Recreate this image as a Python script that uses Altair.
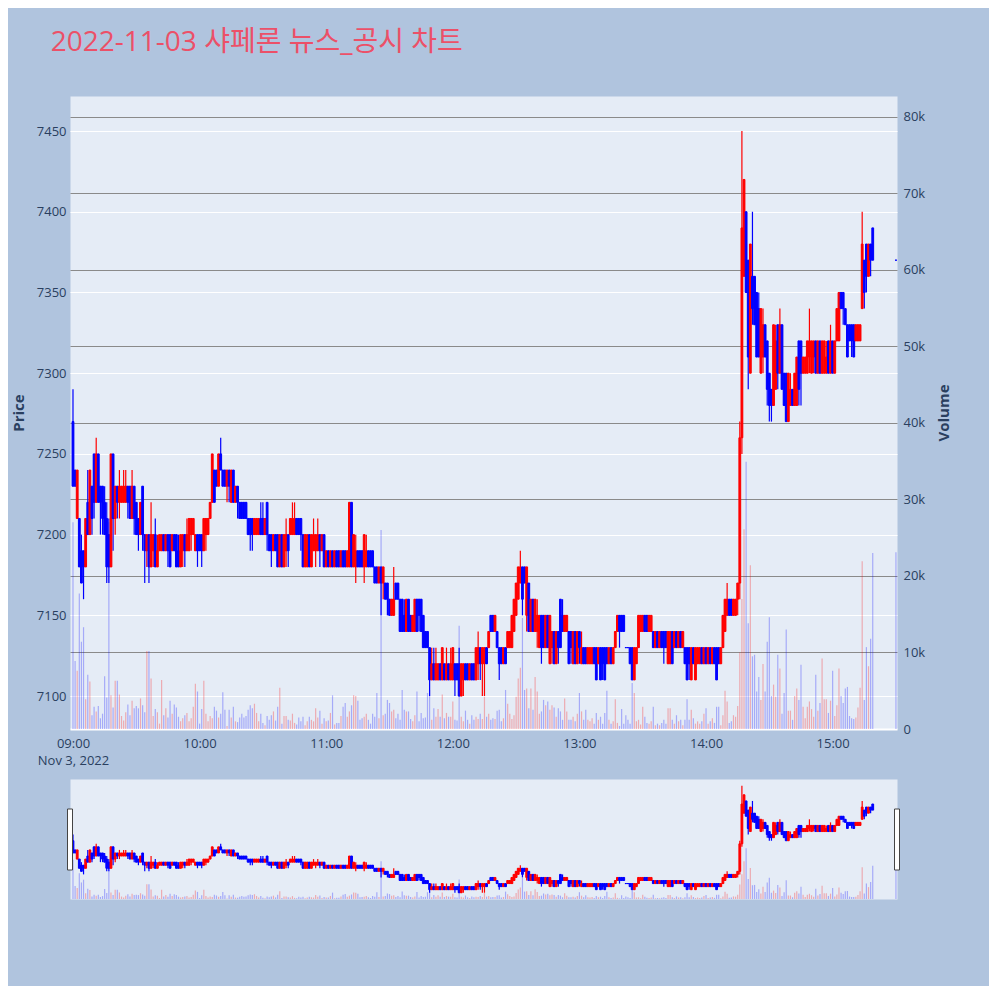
import altair as alt
import pandas as pd

# 1-minute candles 09:00-15:19 plus the 15:30 closing auction
times = [f"2022-11-03T{9 + m // 60:02d}:{m % 60:02d}:00" for m in range(380)] + ["2022-11-03T15:30:00"]

opens = [
    7270, 7240, 7210, 7210, 7190, 7190, 7180, 7220, 7200, 7230,
    7250, 7220, 7250, 7230, 7230, 7220, 7210, 7200, 7180, 7250,
    7210, 7230, 7220, 7220, 7220, 7220, 7230, 7230, 7210, 7230,
    7220, 7210, 7200, 7230, 7200, 7190, 7200, 7180, 7190, 7200,
    7180, 7190, 7190, 7200, 7190, 7200, 7200, 7190, 7200, 7200,
    7190, 7180, 7190, 7200, 7190, 7190, 7200, 7200, 7190, 7200,
    7200, 7200, 7190, 7200, 7200, 7210, 7220, 7240, 7240, 7230,
    7250, 7240, 7240, 7230, 7240, 7220, 7240, 7220, 7230, 7220,
    7220, 7220, 7220, 7210, 7210, 7210, 7200, 7200, 7200, 7210,
    7210, 7200, 7220, 7200, 7200, 7190, 7200, 7200, 7180, 7200,
    7180, 7190, 7200, 7200, 7200, 7200, 7210, 7210, 7210, 7200,
    7180, 7180, 7200, 7180, 7190, 7190, 7190, 7200, 7190, 7200,
    7180, 7190, 7180, 7190, 7180, 7190, 7190, 7180, 7190, 7190,
    7180, 7180, 7220, 7180, 7180, 7190, 7190, 7190, 7180, 7180,
    7190, 7190, 7190, 7180, 7180, 7170, 7180, 7170, 7170, 7170,
    7160, 7150, 7150, 7170, 7170, 7160, 7160, 7150, 7140, 7160,
    7150, 7140, 7140, 7160, 7160, 7160, 7150, 7140, 7140, 7130,
    7110, 7120, 7110, 7110, 7120, 7110, 7120, 7110, 7120, 7110,
    7110, 7120, 7120, 7120, 7100, 7110, 7120, 7120, 7110, 7120,
    7120, 7110, 7120, 7130, 7120, 7120, 7130, 7130, 7150, 7150,
    7140, 7140, 7130, 7130, 7120, 7130, 7130, 7130, 7130, 7140,
    7150, 7160, 7170, 7180, 7180, 7150, 7170, 7140, 7160, 7140,
    7140, 7130, 7150, 7150, 7130, 7150, 7120, 7130, 7140, 7120,
    7140, 7160, 7150, 7140, 7140, 7140, 7140, 7120, 7140, 7120,
    7140, 7120, 7130, 7130, 7120, 7120, 7120, 7130, 7130, 7120,
    7130, 7130, 7130, 7130, 7120, 7130, 7120, 7130, 7140, 7150,
    7150, 7150, 7130, 7130, 7130, 7130, 7110, 7120, 7130, 7140,
    7140, 7150, 7150, 7140, 7140, 7140, 7130, 7140, 7130, 7140,
    7140, 7140, 7120, 7120, 7140, 7130, 7140, 7130, 7140, 7130,
    7130, 7130, 7130, 7110, 7130, 7110, 7120, 7120, 7130, 7120,
    7130, 7120, 7130, 7120, 7130, 7130, 7130, 7120, 7130, 7140,
    7150, 7160, 7160, 7150, 7150, 7160, 7170, 7260, 7360, 7400,
    7370, 7300, 7360, 7360, 7350, 7340, 7300, 7310, 7330, 7320,
    7300, 7290, 7280, 7290, 7330, 7300, 7330, 7300, 7300, 7270,
    7280, 7290, 7280, 7280, 7320, 7320, 7300, 7300, 7300, 7310,
    7300, 7310, 7320, 7300, 7320, 7300, 7300, 7300, 7320, 7300,
    7320, 7300, 7320, 7320, 7350, 7350, 7340, 7330, 7330, 7330,
    7330, 7320, 7320, 7320, 7340, 7370, 7380, 7360, 7380, 7390,
    7370,
]

highs = [
    7290, 7240, 7240, 7210, 7200, 7190, 7210, 7240, 7240, 7230,
    7250, 7260, 7250, 7230, 7230, 7230, 7220, 7210, 7250, 7250,
    7230, 7230, 7240, 7230, 7240, 7240, 7230, 7230, 7240, 7230,
    7220, 7210, 7220, 7230, 7200, 7200, 7200, 7220, 7200, 7210,
    7200, 7200, 7200, 7200, 7200, 7200, 7200, 7200, 7200, 7200,
    7200, 7200, 7200, 7200, 7210, 7210, 7210, 7210, 7200, 7200,
    7200, 7200, 7210, 7210, 7210, 7220, 7250, 7240, 7240, 7250,
    7260, 7240, 7240, 7240, 7240, 7240, 7240, 7230, 7230, 7220,
    7220, 7220, 7220, 7210, 7210, 7210, 7210, 7210, 7210, 7220,
    7220, 7210, 7220, 7200, 7200, 7200, 7200, 7200, 7200, 7200,
    7200, 7210, 7200, 7210, 7220, 7220, 7210, 7210, 7210, 7200,
    7200, 7200, 7200, 7200, 7210, 7200, 7210, 7200, 7200, 7200,
    7190, 7190, 7190, 7190, 7190, 7190, 7190, 7190, 7190, 7190,
    7190, 7220, 7220, 7200, 7200, 7190, 7190, 7190, 7200, 7200,
    7190, 7190, 7190, 7180, 7180, 7180, 7180, 7180, 7170, 7170,
    7160, 7160, 7180, 7170, 7170, 7160, 7160, 7160, 7160, 7160,
    7150, 7150, 7160, 7160, 7160, 7160, 7150, 7140, 7140, 7130,
    7130, 7130, 7130, 7120, 7120, 7130, 7120, 7130, 7120, 7130,
    7130, 7120, 7120, 7130, 7120, 7120, 7120, 7120, 7120, 7120,
    7120, 7130, 7140, 7130, 7130, 7130, 7130, 7140, 7150, 7150,
    7150, 7140, 7130, 7130, 7130, 7130, 7140, 7140, 7150, 7160,
    7170, 7180, 7190, 7180, 7180, 7180, 7170, 7160, 7160, 7160,
    7160, 7150, 7150, 7150, 7150, 7150, 7150, 7140, 7140, 7140,
    7140, 7160, 7160, 7150, 7150, 7140, 7140, 7140, 7140, 7140,
    7140, 7140, 7130, 7130, 7130, 7130, 7130, 7130, 7130, 7130,
    7130, 7130, 7130, 7130, 7130, 7130, 7130, 7140, 7150, 7150,
    7150, 7150, 7130, 7130, 7130, 7130, 7130, 7130, 7150, 7150,
    7150, 7150, 7150, 7150, 7150, 7140, 7140, 7140, 7140, 7140,
    7140, 7140, 7140, 7140, 7140, 7140, 7140, 7140, 7140, 7140,
    7130, 7130, 7130, 7130, 7130, 7130, 7130, 7130, 7130, 7130,
    7130, 7130, 7130, 7130, 7130, 7130, 7130, 7130, 7150, 7160,
    7170, 7160, 7160, 7160, 7160, 7170, 7270, 7450, 7420, 7400,
    7370, 7380, 7400, 7360, 7350, 7350, 7340, 7340, 7330, 7320,
    7300, 7290, 7330, 7330, 7330, 7340, 7330, 7300, 7300, 7300,
    7300, 7290, 7300, 7310, 7320, 7320, 7310, 7310, 7320, 7340,
    7320, 7320, 7320, 7320, 7320, 7320, 7320, 7320, 7320, 7330,
    7320, 7320, 7340, 7350, 7350, 7350, 7340, 7330, 7330, 7330,
    7330, 7330, 7330, 7330, 7400, 7370, 7380, 7380, 7380, 7390,
    7370,
]

lows = [
    7230, 7230, 7210, 7180, 7170, 7160, 7180, 7200, 7200, 7200,
    7210, 7220, 7220, 7200, 7200, 7200, 7170, 7170, 7180, 7190,
    7200, 7210, 7210, 7220, 7220, 7220, 7210, 7210, 7210, 7200,
    7200, 7190, 7200, 7190, 7170, 7180, 7170, 7180, 7180, 7180,
    7180, 7190, 7190, 7190, 7190, 7180, 7180, 7190, 7190, 7180,
    7180, 7180, 7180, 7180, 7190, 7190, 7190, 7200, 7190, 7180,
    7190, 7180, 7190, 7190, 7200, 7210, 7220, 7220, 7230, 7230,
    7240, 7230, 7230, 7220, 7220, 7220, 7220, 7220, 7210, 7210,
    7210, 7210, 7210, 7200, 7190, 7190, 7200, 7200, 7200, 7200,
    7200, 7200, 7190, 7190, 7180, 7190, 7190, 7180, 7180, 7180,
    7180, 7180, 7180, 7200, 7200, 7200, 7200, 7200, 7190, 7180,
    7180, 7180, 7180, 7180, 7190, 7180, 7190, 7180, 7190, 7180,
    7180, 7180, 7180, 7180, 7180, 7180, 7180, 7180, 7180, 7180,
    7180, 7180, 7180, 7180, 7170, 7180, 7180, 7180, 7170, 7180,
    7180, 7180, 7180, 7170, 7170, 7170, 7150, 7160, 7160, 7150,
    7150, 7150, 7150, 7160, 7160, 7140, 7140, 7140, 7140, 7140,
    7140, 7140, 7140, 7140, 7140, 7140, 7130, 7130, 7130, 7100,
    7110, 7110, 7110, 7110, 7110, 7110, 7110, 7110, 7110, 7110,
    7110, 7100, 7110, 7100, 7100, 7100, 7110, 7110, 7110, 7110,
    7110, 7110, 7110, 7110, 7100, 7100, 7120, 7130, 7140, 7140,
    7140, 7130, 7110, 7120, 7120, 7120, 7130, 7130, 7130, 7140,
    7150, 7160, 7170, 7150, 7170, 7140, 7140, 7140, 7140, 7140,
    7130, 7130, 7120, 7130, 7130, 7130, 7120, 7120, 7120, 7120,
    7120, 7130, 7140, 7140, 7140, 7120, 7120, 7120, 7120, 7120,
    7120, 7120, 7120, 7120, 7120, 7120, 7120, 7120, 7110, 7120,
    7110, 7110, 7110, 7120, 7120, 7120, 7120, 7130, 7140, 7130,
    7140, 7140, 7130, 7130, 7120, 7110, 7110, 7120, 7130, 7140,
    7140, 7140, 7140, 7140, 7140, 7130, 7130, 7130, 7130, 7130,
    7120, 7130, 7120, 7120, 7120, 7130, 7130, 7130, 7130, 7130,
    7120, 7110, 7110, 7110, 7120, 7110, 7120, 7120, 7120, 7120,
    7120, 7120, 7120, 7120, 7120, 7110, 7120, 7120, 7130, 7140,
    7150, 7150, 7150, 7150, 7150, 7150, 7160, 7250, 7360, 7350,
    7290, 7300, 7330, 7330, 7310, 7310, 7300, 7300, 7310, 7280,
    7270, 7270, 7280, 7290, 7290, 7300, 7290, 7280, 7270, 7270,
    7280, 7280, 7280, 7280, 7280, 7280, 7300, 7300, 7300, 7300,
    7300, 7300, 7300, 7300, 7300, 7300, 7300, 7300, 7300, 7300,
    7300, 7300, 7320, 7320, 7340, 7330, 7330, 7310, 7320, 7310,
    7310, 7320, 7320, 7320, 7340, 7340, 7350, 7360, 7360, 7370,
    7370,
]

closes = [
    7230, 7230, 7240, 7180, 7170, 7180, 7210, 7200, 7240, 7210,
    7220, 7250, 7220, 7220, 7210, 7200, 7180, 7180, 7250, 7210,
    7230, 7220, 7230, 7230, 7230, 7230, 7220, 7210, 7230, 7210,
    7200, 7200, 7220, 7200, 7190, 7200, 7180, 7200, 7200, 7180,
    7190, 7200, 7200, 7190, 7200, 7190, 7180, 7200, 7190, 7180,
    7180, 7200, 7200, 7190, 7200, 7210, 7210, 7210, 7200, 7190,
    7190, 7190, 7210, 7210, 7210, 7220, 7250, 7220, 7230, 7250,
    7240, 7230, 7230, 7240, 7230, 7240, 7220, 7230, 7220, 7210,
    7210, 7210, 7210, 7200, 7200, 7200, 7210, 7210, 7210, 7200,
    7200, 7210, 7200, 7190, 7190, 7200, 7190, 7180, 7200, 7180,
    7200, 7200, 7190, 7210, 7210, 7210, 7200, 7200, 7200, 7180,
    7200, 7200, 7180, 7200, 7200, 7200, 7200, 7190, 7200, 7180,
    7190, 7180, 7190, 7180, 7190, 7180, 7180, 7190, 7180, 7180,
    7190, 7220, 7180, 7200, 7190, 7180, 7180, 7180, 7200, 7190,
    7180, 7180, 7180, 7170, 7170, 7180, 7170, 7180, 7160, 7160,
    7150, 7160, 7160, 7160, 7160, 7140, 7140, 7140, 7160, 7140,
    7140, 7150, 7160, 7140, 7150, 7140, 7130, 7130, 7130, 7110,
    7120, 7110, 7120, 7120, 7110, 7130, 7110, 7120, 7110, 7120,
    7130, 7110, 7110, 7100, 7120, 7120, 7110, 7110, 7120, 7110,
    7110, 7130, 7130, 7120, 7130, 7130, 7120, 7140, 7140, 7140,
    7150, 7130, 7120, 7120, 7130, 7120, 7140, 7140, 7150, 7160,
    7170, 7180, 7180, 7160, 7170, 7180, 7140, 7160, 7140, 7160,
    7150, 7150, 7130, 7130, 7150, 7130, 7150, 7140, 7120, 7140,
    7130, 7130, 7140, 7150, 7150, 7120, 7130, 7140, 7120, 7140,
    7130, 7130, 7120, 7120, 7130, 7130, 7130, 7120, 7110, 7130,
    7110, 7120, 7110, 7120, 7130, 7120, 7130, 7140, 7150, 7140,
    7140, 7140, 7130, 7130, 7120, 7110, 7130, 7130, 7150, 7150,
    7150, 7140, 7140, 7150, 7150, 7130, 7140, 7130, 7140, 7130,
    7130, 7130, 7140, 7140, 7120, 7140, 7130, 7140, 7130, 7140,
    7120, 7110, 7120, 7130, 7120, 7130, 7130, 7130, 7120, 7130,
    7120, 7130, 7120, 7130, 7120, 7110, 7120, 7130, 7150, 7160,
    7160, 7150, 7150, 7160, 7160, 7170, 7260, 7390, 7420, 7350,
    7310, 7380, 7340, 7330, 7310, 7310, 7340, 7330, 7310, 7290,
    7280, 7280, 7330, 7320, 7300, 7330, 7290, 7280, 7270, 7300,
    7290, 7280, 7300, 7310, 7290, 7300, 7310, 7310, 7320, 7320,
    7320, 7320, 7300, 7320, 7300, 7320, 7320, 7310, 7300, 7320,
    7300, 7320, 7340, 7350, 7340, 7340, 7330, 7310, 7320, 7320,
    7310, 7330, 7330, 7330, 7380, 7350, 7360, 7380, 7370, 7370,
    7370,
]

volumes = [
    27000, 8900, 7600, 17700, 11400, 13300, 3900, 7100, 6200, 1800,
    2900, 2300, 3000, 1400, 2000, 6900, 4100, 27000, 4400, 2800,
    6300, 6300, 4500, 1700, 1100, 2200, 3200, 1800, 3700, 2700,
    3000, 2700, 4000, 3100, 2200, 10200, 10200, 6600, 1700, 2600,
    2200, 700, 6400, 1800, 2700, 1500, 3700, 2000, 3200, 2800,
    1600, 1000, 1400, 1800, 2100, 1000, 1400, 2900, 5900, 4900,
    700, 2600, 6300, 2000, 1000, 1700, 1400, 2900, 2400, 1500,
    2000, 4800, 2500, 400, 2500, 1500, 2900, 1000, 900, 1500,
    2000, 1500, 1700, 2500, 3100, 2700, 3300, 2100, 1000, 2000,
    800, 500, 1700, 1200, 1800, 2300, 1100, 2900, 5400, 700,
    1700, 1700, 1200, 1100, 2000, 800, 600, 1500, 1000, 1600,
    500, 1000, 1600, 1200, 1000, 2700, 1500, 2400, 700, 1400,
    1000, 1100, 2100, 4400, 600, 800, 800, 1700, 2900, 3400,
    1600, 2300, 3100, 4400, 4300, 3700, 1200, 1400, 1600, 2000,
    1200, 700, 2000, 1600, 4700, 1400, 26000, 1800, 2000, 3800,
    3400, 2300, 2500, 1400, 2000, 1200, 5100, 2500, 2300, 2300,
    1300, 1000, 1800, 4900, 1000, 2100, 1400, 1500, 4700, 5100,
    1200, 2700, 1600, 2600, 1600, 4500, 1400, 2100, 1600, 1600,
    3600, 1200, 1100, 13500, 1600, 1000, 2400, 1200, 700, 1800,
    1200, 1600, 1300, 2000, 1300, 4200, 1600, 2000, 1200, 1400,
    1300, 2400, 2500, 1000, 1400, 5100, 3300, 2000, 1300, 1800,
    4200, 6600, 8000, 14500, 5100, 5300, 2700, 5300, 2500, 6800,
    4900, 2000, 2300, 3800, 3100, 3600, 2500, 3100, 2800, 1600,
    2700, 2300, 1200, 4000, 2300, 1200, 1200, 1600, 1000, 2000,
    4700, 2300, 1200, 2500, 1200, 1000, 1400, 700, 2100, 1200,
    1600, 700, 2100, 5000, 1200, 700, 1000, 3900, 800, 400,
    2600, 700, 1800, 1200, 700, 6000, 4700, 1000, 1200, 600,
    2900, 1600, 800, 700, 1000, 2900, 500, 700, 500, 800,
    1200, 700, 2700, 2700, 1200, 700, 1800, 1000, 1200, 500,
    1200, 3900, 1200, 2500, 1400, 700, 1000, 700, 1000, 2000,
    2700, 700, 1000, 1400, 800, 2900, 2900, 500, 1800, 5000,
    3600, 800, 1000, 1800, 1600, 3000, 10000, 17000, 26100, 34900,
    13800, 21400, 9500, 9700, 4900, 6800, 3800, 8500, 4900, 11400,
    14600, 4300, 5800, 4200, 9700, 7900, 2000, 4700, 13000, 2400,
    2400, 1200, 4300, 5300, 3800, 8400, 2900, 1400, 2900, 3600,
    2600, 1600, 7100, 2400, 3400, 9200, 3900, 3900, 2100, 3700,
    7600, 1700, 3100, 7900, 4300, 3400, 5300, 5500, 1700, 1400,
    1300, 1500, 2800, 5400, 21900, 3800, 10700, 8200, 11800, 23000,
    23100,
]

price_ticks = [7100, 7150, 7200, 7250, 7300, 7350, 7400, 7450]
volume_ticks = [0, 10000, 20000, 30000, 40000, 50000, 60000, 70000, 80000]
hour_list = [9, 10, 11, 12, 13, 14, 15]
handle_times = ["2022-11-03T08:58:35", "2022-11-03T15:30:30"]

df = pd.DataFrame({
    "time": times, "open": opens, "high": highs,
    "low": lows, "close": closes, "volume": volumes,
})
handles = pd.DataFrame({"time": handle_times})

INK = "#2a3f5f"
up_down = alt.condition("datum.close > datum.open", alt.value("#ff0000"), alt.value("#0000ff"))

x_scale = alt.Scale(
    domain=[alt.DateTime(year=2022, month=11, date=3, hours=8, minutes=58, seconds=35),
            alt.DateTime(year=2022, month=11, date=3, hours=15, minutes=30, seconds=30)],
    nice=False, padding=0,
)
price_scale = alt.Scale(domain=[7079.6, 7471.7], nice=False, zero=False)
vol_scale = alt.Scale(domain=[0, 82700], nice=False)

x_axis = alt.Axis(
    values=[alt.DateTime(year=2022, month=11, date=3, hours=h) for h in hour_list],
    format="%H:%M",
    labelExpr="hours(datum.value) == 9 ? [datum.label, 'Nov 3, 2022'] : datum.label",
    grid=False, ticks=False, domain=False, labelPadding=8, labelFontSize=13,
    labelColor=INK, labelLineHeight=17, labelOverlap=False, labelFlush=False, title=None,
)
price_axis = alt.Axis(
    values=price_ticks, orient="left", format="d", grid=True, gridColor="white", gridWidth=1,
    domain=False, ticks=False, labelPadding=4, labelFontSize=13, labelColor=INK,
    title="Price", titleFontSize=15, titleFontWeight="bold", titleColor=INK, titlePadding=10,
)
vol_axis = alt.Axis(
    values=volume_ticks, orient="right", format="~s",
    labelExpr="datum.value == 0 ? '0' : datum.label",
    gridColor={"condition": {"test": "datum.value === 0", "value": "white"}, "value": "#8a8a8a"},
    gridWidth={"condition": {"test": "datum.value === 0", "value": 2}, "value": 1.2},
    domain=False, ticks=False, labelPadding=6, labelFontSize=13, labelColor=INK,
    title="Volume", titleAngle=270, titleBaseline="top", titleFontSize=15, titleFontWeight="bold",
    titleColor=INK, titlePadding=12,
)


def panel(show_axes):
    base = alt.Chart(df)
    vol = base.mark_bar(size=1.2, opacity=0.28).encode(
        x=alt.X("time:T", scale=x_scale, axis=x_axis if show_axes else None),
        y=alt.Y("volume:Q", scale=vol_scale, axis=vol_axis if show_axes else None),
        color=up_down,
    )
    wick = base.mark_rule(strokeWidth=1.2).encode(
        x="time:T",
        y=alt.Y("low:Q", scale=price_scale, axis=price_axis if show_axes else None),
        y2="high:Q",
        color=up_down,
    )
    body = base.mark_bar(size=1.8, strokeWidth=1).encode(
        x="time:T",
        y=alt.Y("open:Q", axis=price_axis if show_axes else None),
        y2="close:Q",
        color=up_down,
        stroke=up_down,
    )
    price_layers = [wick, body]
    if not show_axes:
        price_layers.append(
            alt.Chart(handles).mark_bar(size=5, fill="white", stroke="#444444", strokeWidth=1).encode(
                x="time:T", y=alt.value(30), y2=alt.value(91)
            )
        )
    return alt.layer(vol, alt.layer(*price_layers)).resolve_scale(y="independent")


main = panel(True).properties(width=827, height=633)
slider = panel(False).properties(width=827, height=120)

chart = alt.vconcat(main, slider, spacing=10).properties(
    title=alt.Title(
        "2022-11-03 샤페론 뉴스_공시 차트", anchor="start", frame="bounds", dx=40, offset=39,
        fontSize=28, fontWeight="normal", color="#ec5068", font="Open Sans, Noto Sans CJK KR",
    ),
    background="#b0c4de",
    padding={"left": 2, "top": 20, "right": 36, "bottom": 86},
).configure(font="Open Sans").configure_view(fill="#e5ecf6", stroke="transparent")

chart.save("out.html", embed_options={"renderer": "svg", "actions": False})
